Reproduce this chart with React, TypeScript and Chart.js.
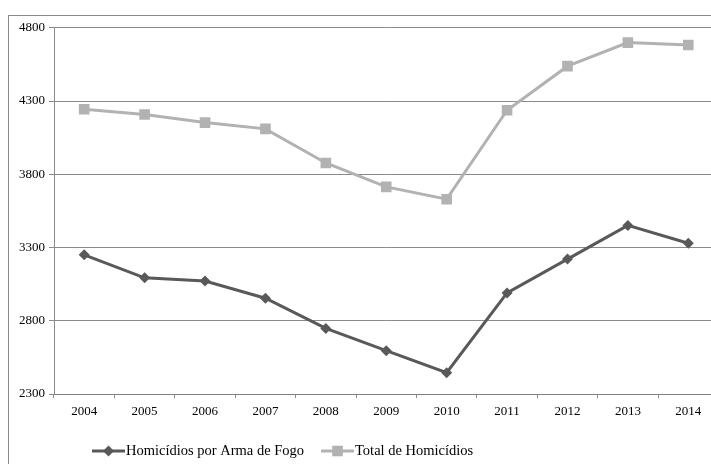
import React, { useEffect, useRef } from 'react';
import { Chart, registerables } from 'chart.js';
import { drawPoint } from 'chart.js/helpers';
Chart.register(...registerables);

const anos = ['2004', '2005', '2006', '2007', '2008', '2009', '2010', '2011', '2012', '2013', '2014'];
const homicidiosArmaFogo = [3250, 3093, 3071, 2954, 2748, 2596, 2445, 2990, 3221, 3451, 3329];
const totalHomicidios = [4244, 4208, 4153, 4110, 3877, 3714, 3630, 4237, 4538, 4699, 4683];
const yTicks = [2300, 2800, 3300, 3800, 4300, 4800];

const FONT = '"Liberation Serif", "Times New Roman", serif';
const GRID = '#8a8a8a';

// legend drawn like the spreadsheet one: line sample with marker, then text
const excelLegend = {
  id: 'excelLegend',
  afterDraw(chart: any) {
    const { ctx, chartArea } = chart;
    const y = chartArea.bottom + 57;
    let x = chartArea.left + 38;
    ctx.save();
    ctx.font = `14.5px ${FONT}`;
    ctx.textBaseline = 'middle';
    chart.data.datasets.forEach((ds: any) => {
      ctx.strokeStyle = ds.borderColor;
      ctx.fillStyle = ds.borderColor;
      ctx.lineWidth = 3;
      ctx.beginPath();
      ctx.moveTo(x, y);
      ctx.lineTo(x + 33, y);
      ctx.stroke();
      drawPoint(ctx, { pointStyle: ds.pointStyle, radius: ds.pointRadius, rotation: 0, borderWidth: 0 }, x + 16.5, y);
      ctx.fillStyle = '#000';
      ctx.fillText(ds.label, x + 34, y);
      x += 34 + ctx.measureText(ds.label).width + 17;
    });
    ctx.restore();
  },
};

export default function App() {
  const canvasRef = useRef<HTMLCanvasElement>(null);
  const chartRef = useRef<Chart | null>(null);

  useEffect(() => {
    if (!canvasRef.current) return;
    if (chartRef.current) chartRef.current.destroy();

    chartRef.current = new Chart(canvasRef.current, {
      type: 'line',
      data: {
        labels: anos,
        datasets: [
          {
            label: 'Homicídios por Arma de Fogo',
            data: homicidiosArmaFogo,
            borderColor: '#595959',
            backgroundColor: '#595959',
            borderWidth: 3,
            pointStyle: 'rectRot',
            pointRadius: 5.5,
            pointBorderWidth: 0,
            tension: 0,
          },
          {
            label: 'Total de Homicídios',
            data: totalHomicidios,
            borderColor: '#b2b2b2',
            backgroundColor: '#b2b2b2',
            borderWidth: 3,
            pointStyle: 'rect',
            pointRadius: 7.5,
            pointBorderWidth: 0,
            tension: 0,
          },
        ],
      },
      options: {
        animation: false,
        responsive: true,
        maintainAspectRatio: false,
        layout: { padding: { top: 9.5, right: 10.5, bottom: 62, left: 0 } },
        plugins: {
          legend: { display: false },
          tooltip: { enabled: false },
        },
        scales: {
          x: {
            offset: true,
            afterFit: (s: any) => { s.height = 30; },
            grid: {
              offset: true,
              drawOnChartArea: false,
              drawTicks: true,
              tickLength: 4,
              color: GRID,
            },
            border: { display: true, color: '#808080', width: 1 },
            ticks: { color: '#000', font: { family: FONT, size: 13 }, padding: 6, maxRotation: 0 },
          },
          y: {
            min: 2300,
            max: 4800,
            afterFit: (s: any) => { s.width = 45; },
            afterBuildTicks: (s: any) => { s.ticks = yTicks.map((v) => ({ value: v })); },
            grid: { color: GRID, tickLength: 5, drawTicks: true },
            border: { display: true, color: GRID },
            ticks: {
              color: '#000',
              font: { family: FONT, size: 13 },
              padding: 4,
              callback: (v: any) => String(v),
            },
          },
        },
      },
      plugins: [excelLegend],
    });

    return () => {
      if (chartRef.current) {
        chartRef.current.destroy();
        chartRef.current = null;
      }
    };
  }, []);

  return (
    <div style={{ position: 'fixed', inset: 0, overflow: 'hidden', background: '#fff' }}>
      <div
        style={{
          position: 'absolute',
          left: 8,
          top: 15,
          width: 740,
          height: 480,
          border: `1px solid ${GRID}`,
        }}
      >
        <div style={{ position: 'relative', width: 720, height: 470 }}>
          <canvas ref={canvasRef}></canvas>
        </div>
      </div>
    </div>
  );
}
